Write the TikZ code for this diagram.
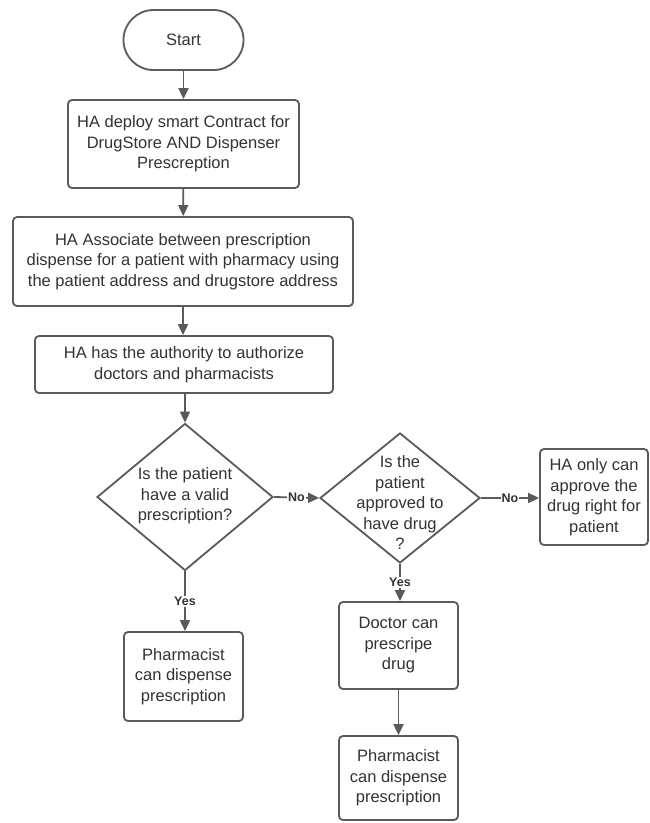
\documentclass[tikz,border=0pt]{standalone}
\usepackage{fontspec}
\setmainfont{Liberation Sans}
\usetikzlibrary{shapes.geometric,arrows.meta}
\definecolor{txt}{HTML}{333333}
\definecolor{ln}{HTML}{5A5A5A}
\begin{document}
\begin{tikzpicture}[x=1pt,y=-1pt,
  every node/.style={text=txt,font=\fontsize{16.5}{20.5}\selectfont},
  box/.style={draw=ln,line width=1.8pt,rounded corners=4pt,align=center,inner sep=0pt},
  term/.style={draw=ln,line width=1.8pt,rounded corners=30pt,inner sep=0pt},
  dia/.style={draw=ln,line width=1.8pt,diamond,inner sep=0pt},
  arr/.style={draw=ln,line width=1.8pt,-{Triangle[length=11pt,width=10pt]}},
  lbl/.style={fill=white,inner sep=1pt,font=\fontsize{12.5}{14}\selectfont\bfseries}]
\useasboundingbox[fill=white] (0,0) rectangle (649,823);
\node[term,minimum width=120pt,minimum height=60pt] (start) at (183.5,40) {Start};
\node[box,minimum width=231pt,minimum height=88pt] (b1) at (183.5,144) {HA deploy smart Contract for\\DrugStore AND Dispenser\\Prescreption};
\node[box,minimum width=340pt,minimum height=89pt] (b2) at (183,261.5) {HA Associate between prescription\\dispense for a patient with pharmacy using\\the patient address and drugstore address};
\node[box,minimum width=298pt,minimum height=57pt] (b3) at (184,364.5) {HA has the authority to authorize\\doctors and pharmacists};
\node[dia,minimum width=176pt,minimum height=147pt] (d1) at (185,497) {};
\node[align=center] (d1t) at (185,496) {Is the patient\\have a valid\\prescription?};
\node[dia,minimum width=160pt,minimum height=130pt] (d2) at (400,498) {};
\node[align=center] (d2t) at (400,503) {Is the\\patient\\approved to\\have drug\\?};
\node[box,minimum width=108pt,minimum height=96pt] (ha) at (594,497) {HA only can\\approve the\\drug right for\\patient};
\node[box,minimum width=119pt,minimum height=89pt] (p1) at (183.5,676.5) {Pharmacist\\can dispense\\prescription};
\node[box,minimum width=119pt,minimum height=87pt] (doc) at (398.5,645.5) {Doctor can\\prescripe\\drug};
\node[box,minimum width=119pt,minimum height=84pt] (p2) at (398.5,778) {Pharmacist\\can dispense\\prescription};
\draw[arr] (start) -- (b1);
\draw[arr] (b1) -- (b2);
\draw[arr] (b2) -- (b3.north -| b2.south);
\draw[arr] (b3.south -| d1.north) -- (d1.north);
\draw[arr] (d1.south) -- node[lbl] (y1) {Yes} (d1.south |- p1.north);
\draw[arr] (d1.east) -- node[lbl] (n1) {No} (d2.west);
\draw[arr] (d2.east) -- node[lbl] (n2) {No} (d2.east -| ha.west);
\draw[arr] (d2.south) -- node[lbl] (y2) {Yes} (d2.south |- doc.north);
\draw[arr] (doc) -- (p2);
\end{tikzpicture}
\end{document}
